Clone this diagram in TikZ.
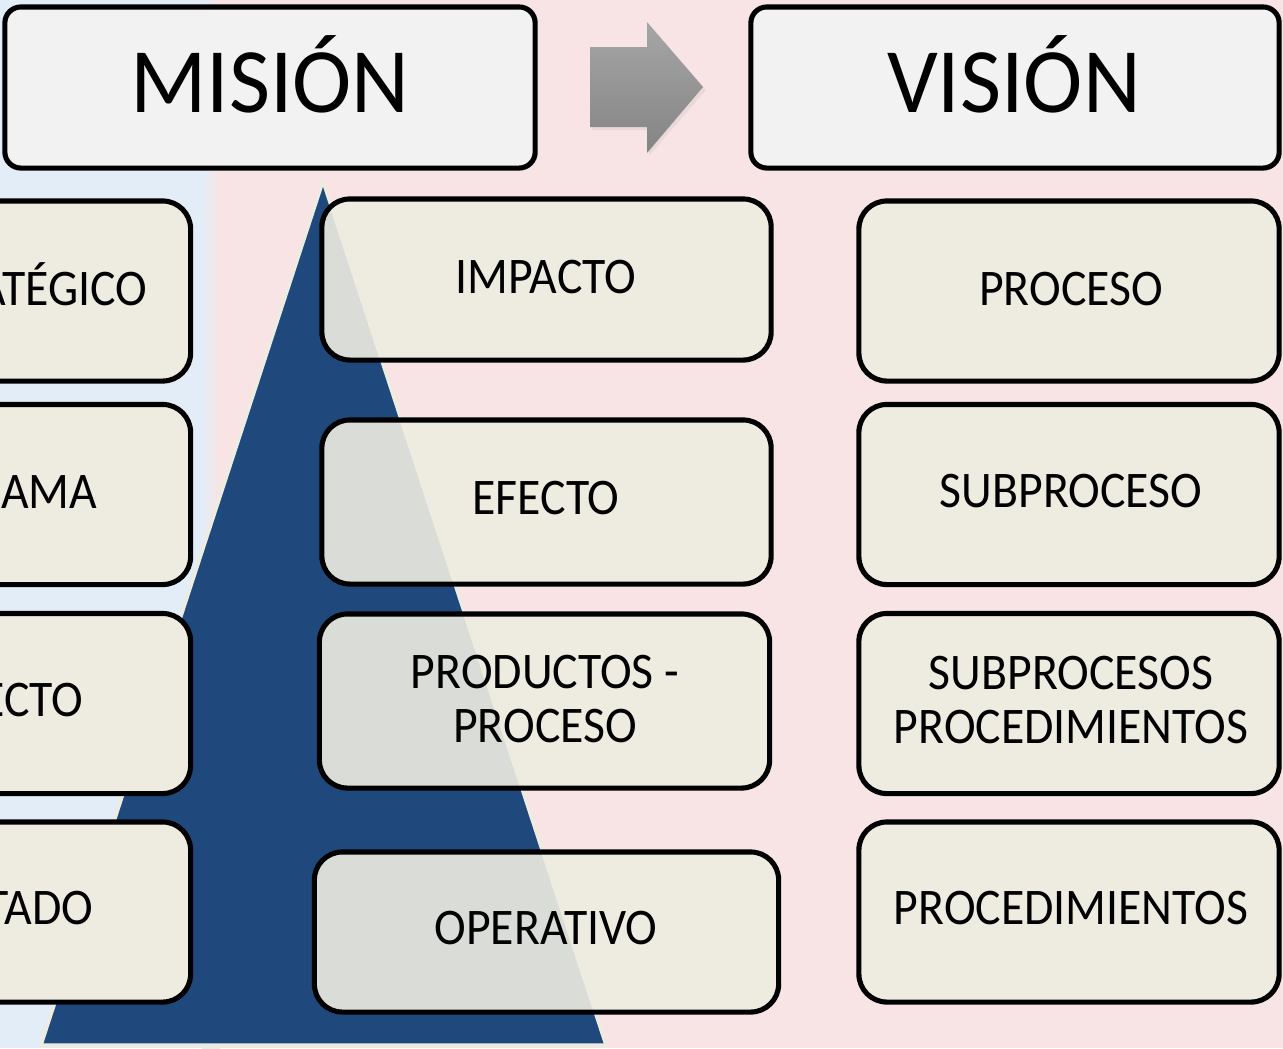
\documentclass[tikz,border=0pt]{standalone}
\usepackage{fontspec}
\setmainfont{Carlito}[FakeStretch=0.93]
\newfontfamily\titlefont{Carlito}[FakeStretch=0.97]
\definecolor{bgpink}{RGB}{248,228,228}
\definecolor{bgblue}{RGB}{227,237,247}
\definecolor{boxfill}{RGB}{238,236,225}
\definecolor{titlefill}{RGB}{242,242,242}
\definecolor{pyrblue}{RGB}{31,73,125}
\definecolor{arrowtop}{RGB}{166,166,166}
\definecolor{arrowbot}{RGB}{132,132,132}
\begin{document}
\begin{tikzpicture}[x=0.01cm,y=-0.01cm,
  box/.style={draw=black, line width=1.45pt, rounded corners=0.28cm, fill=boxfill,
    inner sep=0pt, minimum width=4.20cm, minimum height=1.80cm},
  midbox/.style={box, fill opacity=0.9, minimum width=4.49cm},
  titlebox/.style={draw=black, line width=1.45pt, rounded corners=0.16cm, fill=titlefill,
    inner sep=0pt, minimum height=1.61cm},
  lbl/.style={inner sep=0pt, font=\fontsize{14.6pt}{15.3pt}\selectfont, align=center},
  ttl/.style={inner sep=0pt, font=\titlefont\fontsize{26.2pt}{30pt}\selectfont}]
\useasboundingbox (0,0) rectangle (1283,1048);
% background
\fill[bgpink] (0,0) rectangle (1283,1048);
\fill[bgblue] (0,0) rectangle (203,1048);
\shade[left color=bgblue, right color=bgpink] (202,0) rectangle (220,1048);
% pyramid
\draw[fill=pyrblue, draw=boxfill, line width=1pt, line join=miter] (323,181) -- (41,1045) -- (606,1045) -- cycle;
% titles
\node[titlebox, minimum width=5.30cm] (mision) at (270,87.5) {};
\node[ttl, anchor=base] (tmision) at (270,112) {MISIÓN};
\node[titlebox, minimum width=5.28cm] (vision) at (1015,87.5) {};
\node[ttl, anchor=base] (tvision) at (1014,112) {VISIÓN};
% arrow
\fill[black, opacity=0.05] (592,50) -- (649,50) -- (649,25) -- (706,90) -- (649,156) -- (649,130) -- (592,130) -- cycle;
\shade[top color=arrowtop, bottom color=arrowbot] (590,47) -- (647,47) -- (647,22) -- (703,87) -- (647,153) -- (647,127) -- (590,127) -- cycle;
% left column (cut by the page edge, as in the reference)
\node[box] (l1) at (-19.5,291) {};
\node[box] (l2) at (-19.5,494.5) {};
\node[box] (l3) at (-19.5,703.5) {};
\node[box] (l4) at (-19.5,912) {};
\node[lbl, anchor=base east] (tl1) at (148,305) {ESTRATÉGICO};
\node[lbl, anchor=base east] (tl2) at (98,508) {PROGRAMA};
\node[lbl, anchor=base east] (tl3) at (84,716) {PROYECTO};
\node[lbl, anchor=base east] (tl4) at (94,924) {RESULTADO};
% middle column
\node[midbox, minimum height=1.61cm] (m1) at (546.5,279.5) {};
\node[midbox, minimum height=1.64cm] (m2) at (546.5,502) {};
\node[midbox, minimum width=4.50cm, minimum height=1.74cm] (m3) at (544.5,701) {};
\node[midbox, minimum width=4.64cm, minimum height=1.60cm] (m4) at (546.5,932) {};
\node[lbl, anchor=base] (tm1) at (546,293) {IMPACTO};
\node[lbl, anchor=base] (tm2) at (546,514) {EFECTO};
\node[lbl, anchor=base] (tm3) at (545,742) {PRODUCTOS -\\PROCESO};
\node[lbl, anchor=base] (tm4) at (546,944) {OPERATIVO};
% right column
\node[box] (r1) at (1069,291) {};
\node[box] (r2) at (1069,494.5) {};
\node[box] (r3) at (1069,703.5) {};
\node[box] (r4) at (1069,912) {};
\node[lbl, anchor=base] (tr1) at (1071,305) {PROCESO};
\node[lbl, anchor=base] (tr2) at (1071,507) {SUBPROCESO};
\node[lbl, anchor=base] (tr3) at (1071,743) {SUBPROCESOS\\PROCEDIMIENTOS};
\node[lbl, anchor=base] (tr4) at (1071,924) {PROCEDIMIENTOS};
\end{tikzpicture}
\end{document}
